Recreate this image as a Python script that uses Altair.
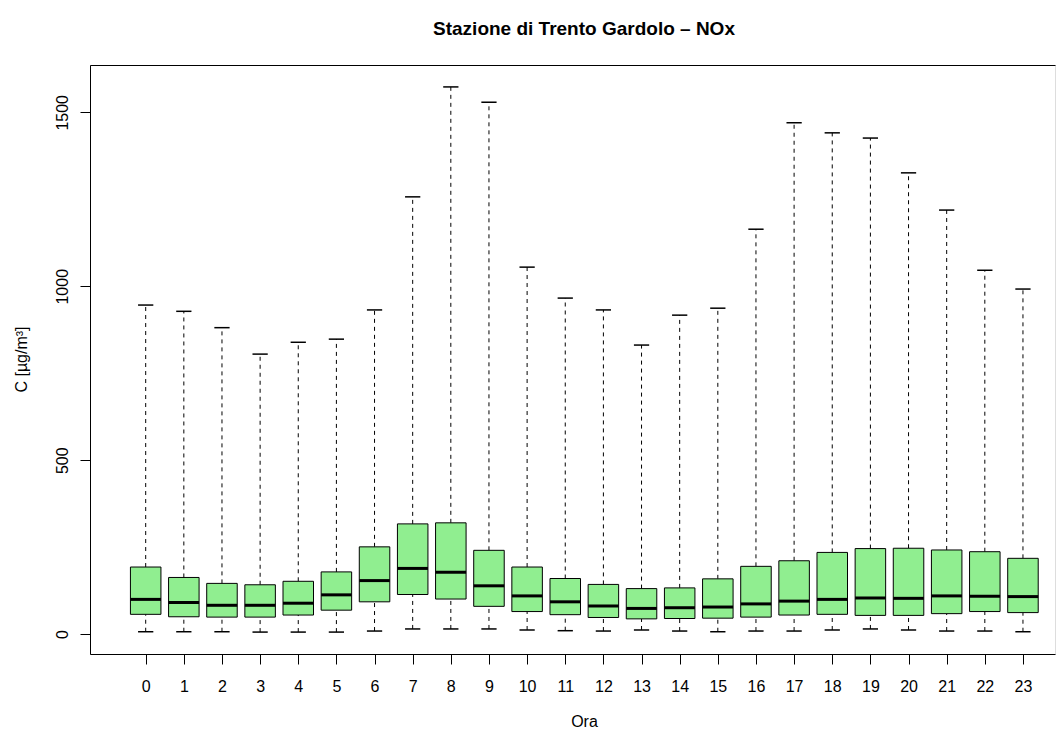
import altair as alt
import pandas as pd

# Hourly NOx distribution
hours = list(range(24))
whisker_low = [7, 7, 7, 6, 6, 6, 9, 15, 15, 15, 12, 10, 9, 12, 9, 7, 9, 9, 12, 15, 12, 9, 9, 7]
q1 = [57, 50, 49, 49, 55, 69, 93, 114, 101, 80, 65, 56, 48, 44, 45, 46, 49, 55, 57, 54, 54, 59, 65, 62]
median = [100, 91, 83, 83, 89, 113, 154, 189, 178, 139, 110, 93, 81, 74, 76, 78, 87, 95, 100, 104, 103, 110, 109, 108]
q3 = [193, 163, 146, 142, 152, 179, 251, 317, 320, 241, 193, 160, 143, 131, 133, 159, 195, 211, 235, 246, 247, 242, 237, 218]
whisker_high = [946, 928, 881, 805, 839, 848, 932, 1257, 1573, 1529, 1055, 966, 932, 831, 917, 937, 1164, 1470, 1441, 1426, 1326, 1219, 1046, 992]
y_ticks = [0, 500, 1000, 1500]

df = pd.DataFrame({
    "ora": hours, "lo": whisker_low, "q1": q1, "med": median, "q3": q3, "hi": whisker_high,
})

FONT = "Liberation Sans"
ytitle = "C [µg/m³]"

xscale = alt.Scale(domain=[-1.46, 23.84], nice=False, zero=False)
yscale = alt.Scale(domain=[-57, 1636], nice=False, zero=False)

base = alt.Chart(df).transform_calculate(
    xl="datum.ora - 0.4", xr="datum.ora + 0.4",
    cl="datum.ora - 0.2", cr="datum.ora + 0.2",
)

top_axis = alt.Axis(orient="top", labels=False, ticks=False, title=None, domain=True,
                    domainColor="black", domainWidth=1, grid=False)
bottom_axis = alt.Axis(orient="bottom", values=hours, title="Ora", grid=False,
                       tickSize=10, tickColor="black", domainColor="black", domainWidth=1,
                       labelFont=FONT, labelFontSize=16, labelColor="black",
                       labelBaseline="alphabetic", labelPadding=27, labelFlush=False,
                       titleFont=FONT, titleFontSize=16, titleFontWeight="normal",
                       titleColor="black", titleX=494, titleY=72,
                       titleAlign="center", titleBaseline="alphabetic")
left_axis = alt.Axis(orient="left", values=y_ticks, grid=False, format="d",
                     tickSize=10, tickColor="black", domainColor="black", domainWidth=1,
                     labelFont=FONT, labelFontSize=16, labelColor="black",
                     labelAngle=270, labelAlign="center", labelBaseline="alphabetic",
                     labelPadding=13,
                     titleFont=FONT, titleFontSize=16, titleFontWeight="normal",
                     titleColor="black", titleAngle=270, titleX=-69, titleY=294,
                     titleAlign="center", titleBaseline="middle")

whisk_lo = base.mark_rule(color="black", strokeDash=[4, 4], strokeWidth=1).encode(
    x=alt.X("ora:Q", scale=xscale, axis=top_axis),
    y=alt.Y("lo:Q", scale=yscale, axis=left_axis, title=ytitle),
    y2="q1:Q",
)
whisk_hi = base.mark_rule(color="black", strokeDash=[4, 4], strokeWidth=1).encode(
    x=alt.X("ora:Q", scale=xscale, axis=None),
    y=alt.Y("q3:Q", scale=yscale, title=ytitle),
    y2="hi:Q",
)
boxes = base.mark_bar(color="#90EE90", stroke="black", strokeWidth=1).encode(
    x=alt.X("xl:Q", scale=xscale, axis=bottom_axis),
    x2="xr:Q",
    y=alt.Y("q1:Q", scale=yscale, title=ytitle),
    y2="q3:Q",
)
medians = base.mark_rule(color="black", strokeWidth=3).encode(
    x=alt.X("xl:Q", scale=xscale, axis=None),
    x2="xr:Q",
    y=alt.Y("med:Q", scale=yscale, title=ytitle),
)
caps_lo = base.mark_rule(color="black", strokeWidth=1.5).encode(
    x=alt.X("cl:Q", scale=xscale, axis=None),
    x2="cr:Q",
    y=alt.Y("lo:Q", scale=yscale, title=ytitle),
)
caps_hi = base.mark_rule(color="black", strokeWidth=1.5).encode(
    x=alt.X("cl:Q", scale=xscale, axis=None),
    x2="cr:Q",
    y=alt.Y("hi:Q", scale=yscale, title=ytitle),
)

chart = alt.layer(whisk_lo, whisk_hi, boxes, medians, caps_lo, caps_hi).resolve_axis(
    x="independent"
).properties(
    width=965,
    height=589,
    autosize=alt.AutoSizeParams(type="none"),
    padding={"left": 82, "top": 57, "right": 1, "bottom": 76},
    title=alt.Title("Stazione di Trento Gardolo – NOx", font=FONT, fontSize=19,
                    fontWeight="bold", color="black", anchor="middle", dx=11.5,
                    baseline="alphabetic", offset=11),
).configure_view(stroke=None).configure(background="white")

chart.save("out.html", embed_options={"renderer": "svg", "actions": False})
